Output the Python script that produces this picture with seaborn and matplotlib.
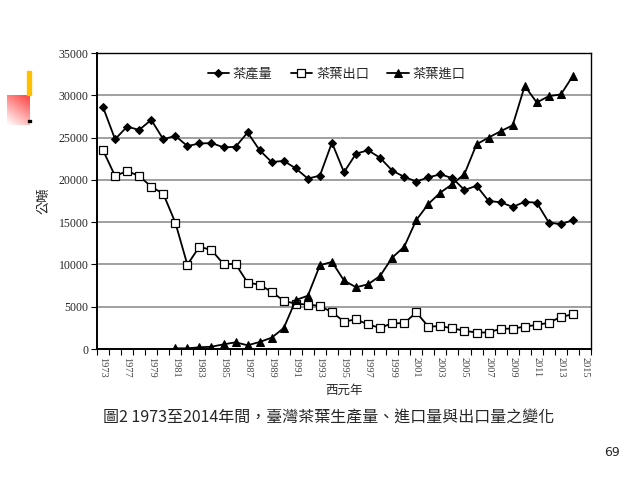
import numpy as np
import pandas as pd
import matplotlib
matplotlib.use("Agg")
import matplotlib.pyplot as plt
import seaborn as sns

# categories as drawn on the original axis (first label reads 1973)
years = [1973] + list(range(1976, 2016))
tick_labels = [str(y) for y in years[::2]]

# tonnes
production = [28600, 24800, 26300, 25900, 27100, 24800, 25200, 24000, 24300, 24350,
              23850, 23900, 25600, 23500, 22100, 22250, 21350, 20150, 20500, 24400,
              20900, 23100, 23500, 22600, 21100, 20350, 19800, 20300, 20650, 20200,
              18800, 19300, 17500, 17350, 16800, 17400, 17300, 14950, 14750, 15250]
export = [23500, 20450, 21050, 20450, 19200, 18350, 14950, 9970, 12100, 11700,
          10050, 10050, 7850, 7600, 6750, 5700, 5350, 5250, 5100, 4350,
          3250, 3500, 2900, 2500, 3050, 3050, 4330, 2650, 2700, 2450,
          2150, 1950, 1950, 2400, 2400, 2650, 2850, 3100, 3800, 4100]
imports = [80, 80, 200, 270, 550, 790, 440, 830, 1340, 2480,
           5790, 6300, 9900, 10300, 8100, 7300, 7650, 8650, 10800, 12100,
           15250, 17150, 18500, 19500, 20700, 24200, 25000, 25750, 26450, 31100,
           29150, 29900, 30100, 32300]
import_start = years.index(1981)

df_prod = pd.DataFrame({"x": np.arange(len(production)), "v": production})
df_exp = pd.DataFrame({"x": np.arange(len(export)), "v": export})
df_imp = pd.DataFrame({"x": np.arange(import_start, import_start + len(imports)), "v": imports})

sns.set_style("white")
plt.rcParams["font.family"] = ["Noto Sans CJK TC", "DejaVu Sans"]

fig = plt.figure(figsize=(6.4, 4.78), dpi=100)
ax = fig.add_axes([97 / 640, 1 - 349 / 478, 494 / 640, 296 / 478])

sns.lineplot(data=df_prod, x="x", y="v", ax=ax, color="black", lw=1.3,
             marker="D", markersize=4, markerfacecolor="black", markeredgecolor="black",
             label="茶產量")
sns.lineplot(data=df_exp, x="x", y="v", ax=ax, color="black", lw=1.3,
             marker="s", markersize=6, markerfacecolor="white", markeredgecolor="black",
             markeredgewidth=0.9, label="茶葉出口")
sns.lineplot(data=df_imp, x="x", y="v", ax=ax, color="black", lw=1.3,
             marker="^", markersize=5.5, markerfacecolor="black", markeredgecolor="black",
             label="茶葉進口")

ax.set_xlim(-0.5, len(years) - 0.5)
ax.set_ylim(0, 35000)
ax.set_yticks(range(0, 35001, 5000))
ax.set_yticklabels([str(v) for v in range(0, 35001, 5000)],
                   fontfamily="Liberation Serif", fontsize=8.5)
ax.yaxis.grid(True, color="#a0a0a0", lw=1.4)
ax.set_axisbelow(True)

ax.set_xticks(np.arange(0, len(years), 2))
ax.set_xticklabels(tick_labels, rotation=-90, fontfamily="Liberation Serif",
                   fontsize=7.5, color="#444444")
ax.set_xticks(np.arange(-0.5, len(years)), minor=True)
ax.tick_params(axis="x", which="major", length=0, pad=6)
ax.tick_params(axis="x", which="minor", length=4, width=0.8, color="black", direction="out")
ax.tick_params(axis="y", length=4, width=0.8, color="black", direction="out", pad=2)
ax.xaxis.set_tick_params(which="both", bottom=True)
ax.yaxis.set_tick_params(left=True)

for s in ax.spines.values():
    s.set_color("black")
    s.set_linewidth(1.0)
ax.spines["bottom"].set_linewidth(1.4)
ax.spines["left"].set_linewidth(1.4)

ax.set_xlabel("西元年", fontsize=9, labelpad=4)
ax.set_ylabel("公噸", fontsize=9.5, labelpad=6)

leg = ax.legend(loc="upper center", bbox_to_anchor=(0.485, 0.99), ncol=3, frameon=False,
                fontsize=9.5, handlelength=1.6, columnspacing=1.4, handletextpad=0.3)

fig.text(0.513, 1 - 418 / 478, "圖2 1973至2014年間，臺灣茶葉生產量、進口量與出口量之變化",
         ha="center", va="center", fontsize=11.5)
fig.text(612 / 640, 1 - 452 / 478, "69", ha="center", va="center", fontsize=9,
         fontfamily="DejaVu Sans")

# slide decoration top-left
gx = np.linspace(0, 1, 40)
gy = np.linspace(0, 1, 40)
X, Y = np.meshgrid(gx, gy)
strength = np.clip(0.35 * X + 0.65 * (1 - Y), 0, 1)
img = np.ones((40, 40, 3))
img[..., 1] = 1 - 0.75 * strength
img[..., 2] = 1 - 0.75 * strength
gax = fig.add_axes([7 / 640, 1 - 125 / 478, 23 / 640, 30 / 478])
gax.imshow(img, aspect="auto", extent=(0, 1, 0, 1))
gax.axis("off")
fig.patches.append(plt.Rectangle((27 / 640, 1 - 95 / 478), 4 / 640, 24 / 478,
                                 transform=fig.transFigure, color="#ffc000"))
fig.patches.append(plt.Rectangle((28 / 640, 1 - 122 / 478), 2.5 / 640, 2.5 / 478,
                                 transform=fig.transFigure, color="black"))

fig.savefig("out.png", dpi=100, facecolor="white")
